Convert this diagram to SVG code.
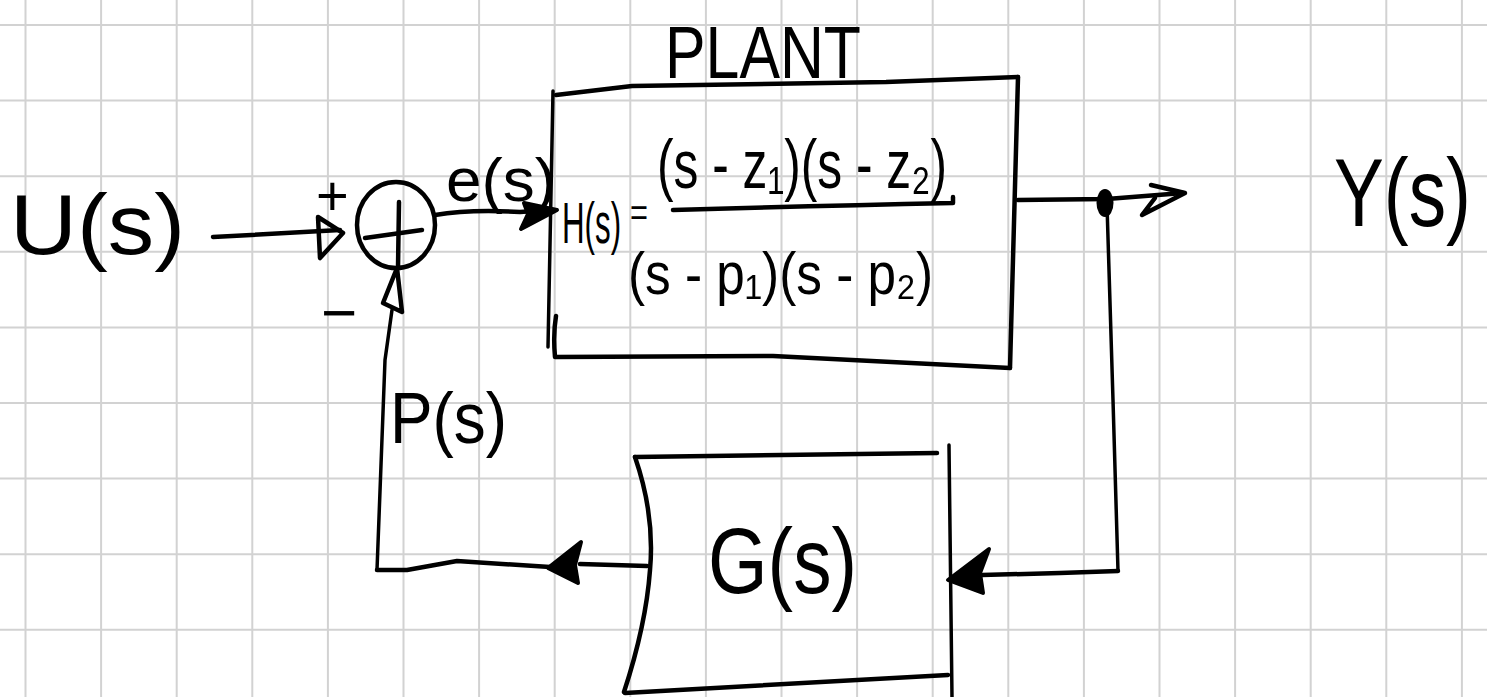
<svg xmlns="http://www.w3.org/2000/svg" width="1487" height="697" viewBox="0 0 1487 697">
  <style>
    .grid { stroke: #d2d2d2; stroke-width: 2; fill: none; }
    .ink { stroke: #000; stroke-width: 4.5; fill: none; stroke-linecap: round; stroke-linejoin: round; }
    .thin { stroke: #000; stroke-width: 3.5; fill: none; stroke-linecap: round; stroke-linejoin: round; }
    .head { fill: #000; stroke: #000; stroke-width: 4; stroke-linejoin: round; }
    .head-open { fill: none; stroke: #000; stroke-width: 4.5; stroke-linejoin: round; stroke-linecap: round; }
    .lbl { font-family: "Liberation Sans", "DejaVu Sans", Arial, sans-serif; fill: #000; }
  </style>

  <!-- squared paper -->
  <rect width="1487" height="697" fill="#fff"/>
  <g id="grid" class="grid">
    <path d="M25.5,0V697M101.1,0V697M176.7,0V697M252.3,0V697M327.9,0V697M403.5,0V697M479.1,0V697M554.7,0V697M630.3,0V697M705.9,0V697M781.5,0V697M857.1,0V697M932.7,0V697M1008.3,0V697M1083.9,0V697M1159.5,0V697M1235.1,0V697M1310.7,0V697M1386.3,0V697M1461.9,0V697"/>
    <path d="M0,25H1487M0,100.6H1487M0,176.2H1487M0,251.8H1487M0,327.4H1487M0,403H1487M0,478.6H1487M0,554.2H1487M0,629.8H1487"/>
  </g>

  <!-- input signal -->
  <g id="input">
    <text class="lbl" x="10" y="254" font-size="86" textLength="175" lengthAdjust="spacingAndGlyphs">U(s)</text>
  </g>

  <!-- summing junction -->
  <g id="sum">
    <ellipse class="ink" cx="396" cy="225" rx="39" ry="43"/>
    <path class="ink" d="M365,238 L422,230"/>
    <path class="ink" d="M399,202 L398,268"/>
    <text class="lbl" x="316" y="215" font-size="56">+</text>
    <text class="lbl" x="321" y="334" font-size="62">−</text>
  </g>

  <!-- plant block -->
  <g id="plant">
    <text class="lbl" x="665" y="78" font-size="74" textLength="196" lengthAdjust="spacingAndGlyphs">PLANT</text>
    <path class="ink" d="M556,95 L632,86 L886,82 L1018,77"/>
    <path class="ink" d="M1018,77 L1010,368"/>
    <path class="thin" d="M553,91 L548,347"/>
    <path class="ink" d="M556,316 Q553,334 555,357 L773,356 L1010,368"/>
    <text class="lbl" transform="translate(562,243) scale(0.54,1)" x="0" y="0" font-size="58">H(s)</text>
    <text class="lbl" x="630" y="226" font-size="38" textLength="18" lengthAdjust="spacingAndGlyphs">=</text>
    <text class="lbl" x="657" y="188" font-size="68" textLength="290" lengthAdjust="spacingAndGlyphs">(s - z₁)(s - z₂)</text>
    <path class="ink" d="M673,210 Q807,206 953,203 L953,197"/>
    <text class="lbl" x="628" y="294" font-size="60" textLength="305" lengthAdjust="spacingAndGlyphs">(s - p₁)(s - p₂)</text>
  </g>

  <!-- output signal -->
  <g id="output">
    <text class="lbl" transform="translate(1334,226) scale(1,1.18)" x="0" y="0" font-size="82" textLength="137" lengthAdjust="spacingAndGlyphs">Y(s)</text>
  </g>

  <!-- feedback block -->
  <g id="feedback">
    <path class="ink" d="M635,457 L937,453"/>
    <path class="thin" d="M949,445 L952,697"/>
    <path class="ink" d="M635,457 Q655,515 650,570 Q646,625 624,692"/>
    <path class="ink" d="M625,693 L948,675"/>
    <text class="lbl" x="708" y="593" font-size="92" textLength="149" lengthAdjust="spacingAndGlyphs">G(s)</text>
  </g>

  <!-- feedback signal label -->
  <g id="feedback-label">
    <text class="lbl" x="390" y="443" font-size="72" textLength="117" lengthAdjust="spacingAndGlyphs">P(s)</text>
  </g>

  <!-- connectors -->
  <g id="connectors">
    <!-- U(s) to summing junction -->
    <path class="ink" d="M213,237 L340,230"/>
    <path class="head-open" d="M318,217 L343,233 L320,258 Z"/>

    <!-- error e(s) into plant -->
    <path class="ink" d="M435,215 Q470,209 520,212 L550,210"/>
    <path class="head" d="M557,210 L524,203 L528,214 L521,229 Z"/>
    <text class="lbl" x="446" y="201" font-size="62" textLength="110" lengthAdjust="spacingAndGlyphs">e(s)</text>

    <!-- plant output to Y(s) -->
    <path class="ink" d="M1018,200 L1107,199 L1183,193"/>
    <path class="head-open" d="M1151,185 L1185,193 L1142,215 L1155,198"/>
    <ellipse cx="1105" cy="203" rx="8.5" ry="14" fill="#000"/>

    <!-- take-off point down to G(s) -->
    <path class="thin" d="M1107,205 L1113,400 L1118,571"/>
    <path class="ink" d="M1118,571 L1060,573 L982,575"/>
    <path class="head" d="M948,580 L989,549 L980,573 L983,593 Z"/>

    <!-- G(s) output back to summing junction -->
    <path class="ink" d="M647,566 L580,564"/>
    <path class="head" d="M548,568 L581,542 L575,565 L578,583 Z"/>
    <path class="ink" d="M550,567 L457,561 L407,570 L377,570"/>
    <path class="thin" d="M377,570 L385,360 L392,310"/>
    <path class="head-open" d="M397,268 L383,303 L402,312 Z"/>
  </g>
</svg>
